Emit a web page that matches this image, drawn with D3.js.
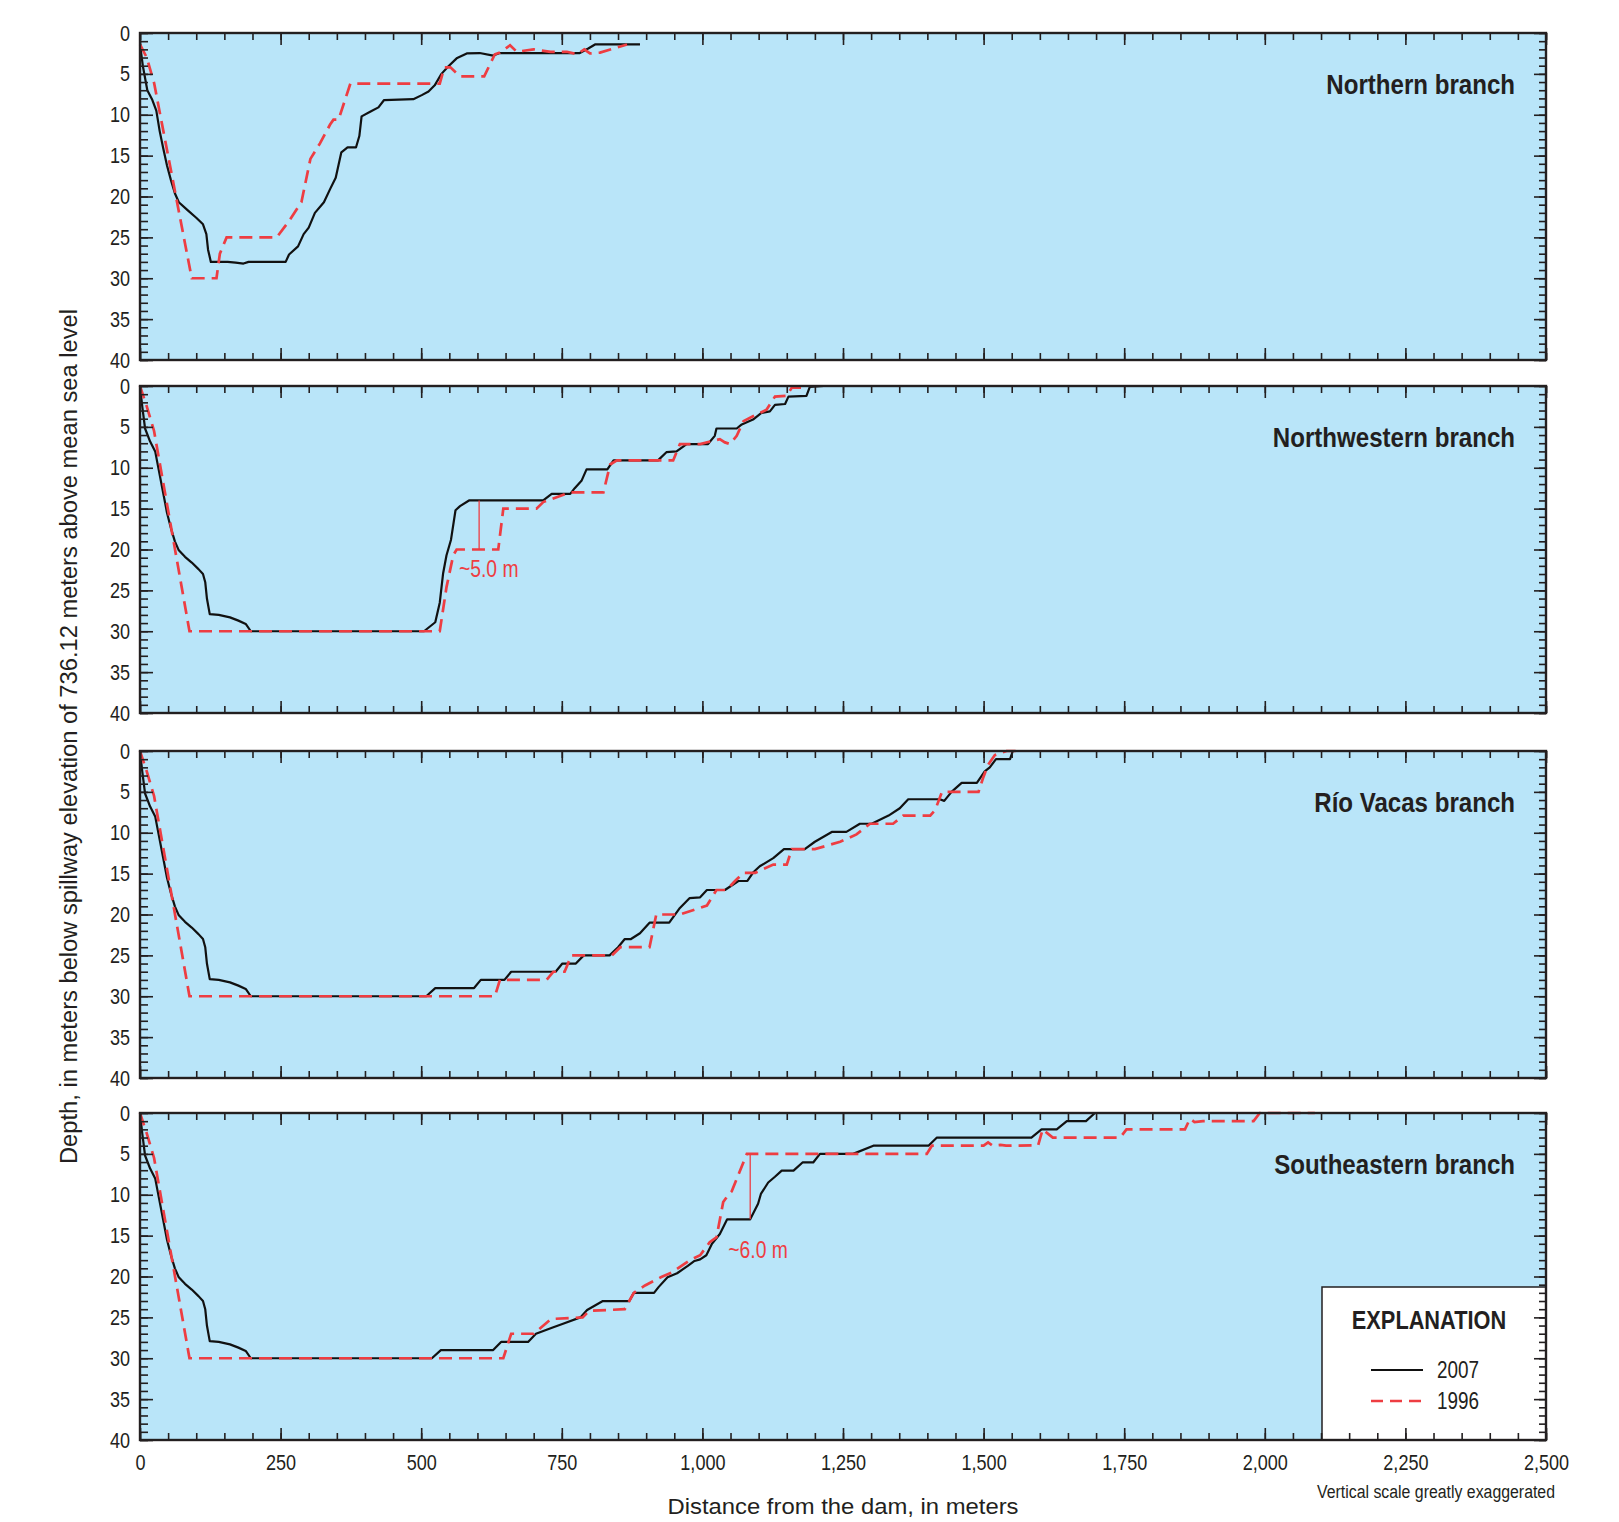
<!DOCTYPE html>
<html>
<head>
<meta charset="utf-8">
<script src="https://cdn.jsdelivr.net/npm/d3@7"></script>
<style>
  body { margin: 0; background: #fff; }
  svg { display: block; }
</style>
</head>
<body>
<svg id="chart"></svg>
<script>
const branchNames = ["Northern branch", "Northwestern branch", "Río Vacas branch", "Southeastern branch"];
const seriesYears = ["2007", "1996"];
const distanceTicks = [0, 250, 500, 750, 1000, 1250, 1500, 1750, 2000, 2250, 2500];
const depthTicks = [0, 5, 10, 15, 20, 25, 30, 35, 40];

// [distance from dam (m), depth below spillway (m)]
// the reach next to the dam is the same in the last three branches
const damReach2007 = [[0, 0], [4, 2.5], [9, 5.2], [18, 6.8], [27, 8], [34, 10.5], [41, 13], [48, 15.5], [55, 17.4],
  [62, 19], [69, 20.1], [80, 20.9], [92, 21.6], [104, 22.4], [112, 23], [116, 24], [119, 26], [124, 27.9],
  [140, 28], [160, 28.3], [175, 28.7], [188, 29.1], [197, 30]];
const damReach1996 = [[0, 0], [12, 2.5], [25, 5.5], [88, 30]];

const northern2007 = [[0, 1.4], [5, 4], [13, 7], [22, 8.2], [29, 9.5], [35, 12], [41, 14], [48, 16.2], [55, 18],
  [62, 19.6], [69, 20.7], [85, 21.7], [100, 22.6], [112, 23.4], [118, 24.6], [121, 26.5], [126, 28], [156, 28],
  [170, 28.1], [184, 28.2], [193, 28], [259, 28], [265, 27.1], [281, 26.1], [291, 24.6], [300, 23.8], [311, 22],
  [327, 20.7], [338, 19.1], [348, 17.7], [358, 14.6], [369, 14], [384, 14], [390, 12.6], [394, 10.2], [410, 9.6],
  [424, 9.1], [434, 8.2], [486, 8.1], [501, 7.6], [513, 7.15], [524, 6.4], [536, 5], [548, 4.1], [563, 3.1],
  [581, 2.5], [604, 2.45], [628, 2.76], [640, 2.45], [782, 2.45], [797, 1.9], [809, 1.4], [889, 1.4]];
const northern1996 = [[0, 1.4], [12, 3], [25, 6.1], [92, 30], [136, 30], [142, 27], [154, 25], [243, 25],
  [265, 23], [287, 20.7], [303, 15.4], [320, 13.5], [338, 11.2], [344, 10.6], [353, 10.6], [374, 6.2], [533, 6.2],
  [541, 4.2], [552, 4.2], [569, 5.3], [612, 5.3], [631, 2.6], [640, 2.4], [658, 1.5], [670, 2.3], [700, 2.0],
  [730, 2.3], [759, 2.3], [777, 2.6], [790, 2.0], [800, 2.5], [818, 2.4], [842, 1.9], [866, 1.4]];

const northwestern2007 = damReach2007.concat([[505, 30], [525, 28.9], [533, 26.5], [539, 22.9], [545, 20.7],
  [553, 18.8], [561, 15.2], [569, 14.7], [585, 14], [717, 14], [732, 13.2], [765, 13.2], [773, 12.5], [785, 11.6],
  [794, 10.2], [831, 10.2], [842, 9.1], [921, 9.1], [936, 8.1], [954, 8], [972, 7.1], [1010, 7.1], [1022, 6.1],
  [1025, 5.2], [1061, 5.2], [1070, 4.7], [1090, 4.1], [1105, 3.3], [1120, 3.1], [1129, 2.3], [1147, 2.2],
  [1153, 1.3], [1185, 1.2], [1191, 0.1], [1216, 0]]);
const northwestern1996 = damReach1996.concat([[533, 30], [545, 24.6], [557, 20.7], [563, 20], [637, 20],
  [646, 15], [705, 15], [717, 14.2], [765, 13], [824, 13], [836, 9.6], [848, 9.1], [948, 9.1], [960, 7.1],
  [996, 7.1], [1031, 6.5], [1040, 6.9], [1049, 7.1], [1061, 6.1], [1073, 4.3], [1090, 3.7], [1114, 2.9],
  [1129, 1.3], [1150, 1.2], [1159, 0.2], [1186, 0.2]]);

const rioVacas2007 = damReach2007.concat([[509, 30], [525, 29], [594, 29], [606, 28], [648, 28], [660, 27],
  [739, 27], [751, 26], [775, 26], [789, 25], [835, 25], [850, 24], [862, 23], [873, 23], [889, 22.3], [906, 21],
  [941, 21], [960, 19.2], [977, 18], [996, 17.9], [1008, 17], [1040, 17], [1064, 15.9], [1080, 15.9],
  [1091, 14.8], [1102, 14.1], [1126, 13.1], [1145, 12], [1182, 12], [1200, 11.1], [1230, 9.9], [1256, 9.9],
  [1280, 8.9], [1301, 8.9], [1331, 7.9], [1351, 7], [1366, 5.9], [1422, 5.9], [1430, 6.1], [1443, 5],
  [1461, 3.9], [1488, 3.9], [1502, 2.5], [1511, 2], [1522, 1], [1547, 1], [1552, 0], [1570, 0]]);
const rioVacas1996 = damReach1996.concat([[631, 30], [640, 28], [723, 28], [735, 27], [755, 27], [767, 25],
  [839, 25], [854, 24], [906, 24], [918, 20], [960, 20], [1008, 18.9], [1025, 17], [1043, 17], [1058, 15.9],
  [1073, 14.9], [1094, 14.9], [1126, 13.9], [1150, 13.9], [1159, 12], [1200, 12], [1245, 11.1], [1274, 10.2],
  [1298, 8.9], [1339, 8.9], [1357, 7.9], [1405, 7.9], [1414, 7.2], [1426, 5], [1491, 5], [1499, 3.3],
  [1508, 1.7], [1520, 0.5], [1541, 0], [1560, 0]]);

const southeastern2007 = damReach2007.concat([[519, 30], [535, 29], [628, 29], [642, 28], [690, 28], [704, 27],
  [735, 26.2], [751, 25.8], [783, 25], [795, 24.1], [823, 23], [870, 23], [878, 22], [914, 22], [922, 21.3],
  [938, 20.1], [955, 19.6], [974, 18.7], [986, 18.1], [996, 17.9], [1007, 17.4], [1017, 16], [1031, 14.8],
  [1044, 13], [1085, 13], [1099, 11.1], [1104, 9.9], [1117, 8.5], [1129, 7.8], [1141, 7.05], [1162, 7.05],
  [1178, 6.05], [1197, 6.05], [1209, 5], [1268, 5], [1304, 4], [1402, 4], [1417, 3], [1585, 3], [1603, 2],
  [1630, 2], [1648, 1], [1682, 1], [1698, 0], [2105, 0]]);
const southeastern1996 = damReach1996.concat([[646, 30], [660, 27], [700, 27], [731, 25.2], [787, 25],
  [799, 24.2], [862, 24], [878, 22], [898, 21.1], [926, 20.1], [946, 19.5], [978, 18], [996, 17.4], [1013, 15.8],
  [1025, 15.2], [1037, 10.9], [1046, 10], [1052, 9.6], [1079, 5], [1399, 5], [1408, 4], [1500, 4], [1508, 3.6],
  [1516, 4], [1530, 3.9], [1540, 4], [1597, 3.95], [1605, 2], [1612, 2.4], [1623, 3], [1743, 3], [1754, 2],
  [1858, 2], [1867, 0.7], [1875, 1.1], [1890, 1], [1980, 1], [1991, 0], [2089, 0]]);

// difference markers: distance, depth of 2007 and 1996 surfaces, label spot
const annotations = [
  { panel: 1, x: 603, from: 14, to: 20, label: "~5.0 m", labelX: 567, labelDepth: 22.4 },
  { panel: 3, x: 1085, from: 5, to: 13, label: "~6.0 m", labelX: 1046, labelDepth: 16.7 }
];

const profiles = [
  [northern2007, northern1996],
  [northwestern2007, northwestern1996],
  [rioVacas2007, rioVacas1996],
  [southeastern2007, southeastern1996]
];

const width = 1619;
const height = 1522;
const panelTops = [33, 386, 751, 1113];
const panelHeight = 327;
const sans = "'Liberation Sans', Arial, sans-serif";
const ink = "#231f20";
const red = "#ee3d42";
const water = "#b9e5f9";

const svg = d3.select("#chart").attr("width", width).attr("height", height);

const x = d3.scaleLinear().domain([0, 2500]).range([140, 1546]);

// no condensed face is installed, so squeeze the glyphs of each label
function condense(sel, factor) {
    sel.each(function() {
        const w = this.getComputedTextLength();
        if (w > 0) {
            d3.select(this).attr("textLength", w * factor).attr("lengthAdjust", "spacingAndGlyphs");
        }
    });
}

function addAxis(g, axis, transform) {
    g.append("g")
        .attr("transform", transform)
        .call(axis)
        .attr("font-family", sans)
        .attr("font-size", 22)
        .call(a => a.select(".domain").remove())
        .call(a => a.selectAll("line").attr("stroke", ink).attr("stroke-width", 1.6))
        .call(a => a.selectAll("text").attr("fill", ink))
        .call(a => condense(a.selectAll("text"), 0.82));
}

branchNames.forEach((name, i) => {
    const top = panelTops[i];
    const bottom = top + panelHeight;
    const y = d3.scaleLinear().domain([0, 40]).range([top, bottom]);
    const last = i === branchNames.length - 1;
    const g = svg.append("g");

    g.append("rect")
        .attr("x", x(0)).attr("y", top)
        .attr("width", x(2500) - x(0)).attr("height", panelHeight)
        .attr("fill", water);

    const line = d3.line().x(d => x(d[0])).y(d => y(d[1]));

    g.append("path")
        .datum(profiles[i][0])
        .attr("d", line)
        .attr("fill", "none")
        .attr("stroke", "#111")
        .attr("stroke-width", 2.2)
        .attr("stroke-linejoin", "round");

    g.append("path")
        .datum(profiles[i][1])
        .attr("d", line)
        .attr("fill", "none")
        .attr("stroke", red)
        .attr("stroke-width", 2.7)
        .attr("stroke-dasharray", "13,7");

    annotations.filter(a => a.panel === i).forEach(a => {
        g.append("line")
            .attr("x1", x(a.x)).attr("x2", x(a.x))
            .attr("y1", y(a.from)).attr("y2", y(a.to))
            .attr("stroke", red).attr("stroke-width", 1.3);
        g.append("text")
            .attr("x", x(a.labelX))
            .attr("y", y(a.labelDepth))
            .attr("dy", "0.36em")
            .attr("font-family", sans)
            .attr("font-size", 23)
            .attr("fill", red)
            .text(a.label)
            .call(t => condense(t, 0.84));
    });

    // Legend sits in the corner of the bottom panel, under the ticks
    if (last) {
        const lx = x(2500) - 224;
        const ly = bottom - 153;
        const legend = g.append("g");
        legend.append("rect")
            .attr("x", lx).attr("y", ly)
            .attr("width", x(2500) - lx).attr("height", bottom - ly)
            .attr("fill", "#fff")
            .attr("stroke", ink).attr("stroke-width", 1.5);
        legend.append("text")
            .attr("x", lx + 107).attr("y", ly + 42)
            .attr("text-anchor", "middle")
            .attr("font-family", sans).attr("font-weight", "bold")
            .attr("font-size", 25).attr("fill", ink)
            .text("EXPLANATION")
            .call(t => condense(t, 0.87));
        seriesYears.forEach((yr, k) => {
            const ry = ly + 83 + k * 31;
            legend.append("line")
                .attr("x1", lx + 49).attr("x2", lx + 101)
                .attr("y1", ry).attr("y2", ry)
                .attr("stroke", k === 0 ? "#111" : red)
                .attr("stroke-width", k === 0 ? 1.8 : 2.7)
                .attr("stroke-dasharray", k === 0 ? null : "12,7");
            legend.append("text")
                .attr("x", lx + 115).attr("y", ry)
                .attr("dy", "0.36em")
                .attr("font-family", sans)
                .attr("font-size", 23).attr("fill", ink)
                .text(yr)
                .call(t => condense(t, 0.82));
        });
    }

    // Ticks point inward on all four sides
    const minorX = d3.range(0, 2501, 50);
    const minorY = d3.range(0, 41, 1);

    addAxis(g, d3.axisBottom(x).tickValues(minorX).tickSize(-7).tickFormat(""), `translate(0,${bottom})`);
    addAxis(g, d3.axisBottom(x).tickValues(distanceTicks).tickSize(-12).tickPadding(14)
        .tickFormat(last ? d3.format(",") : ""), `translate(0,${bottom})`);
    addAxis(g, d3.axisTop(x).tickValues(minorX).tickSize(-7).tickFormat(""), `translate(0,${top})`);
    addAxis(g, d3.axisTop(x).tickValues(distanceTicks).tickSize(-12).tickFormat(""), `translate(0,${top})`);
    addAxis(g, d3.axisLeft(y).tickValues(minorY).tickSize(-8).tickFormat(""), `translate(${x(0)},0)`);
    addAxis(g, d3.axisLeft(y).tickValues(depthTicks).tickSize(-13).tickPadding(10)
        .tickFormat(d3.format("d")), `translate(${x(0)},0)`);
    addAxis(g, d3.axisRight(y).tickValues(minorY).tickSize(-7).tickFormat(""), `translate(${x(2500)},0)`);
    addAxis(g, d3.axisRight(y).tickValues(depthTicks).tickSize(-12).tickFormat(""), `translate(${x(2500)},0)`);

    g.append("rect")
        .attr("x", x(0)).attr("y", top)
        .attr("width", x(2500) - x(0)).attr("height", panelHeight)
        .attr("fill", "none")
        .attr("stroke", ink).attr("stroke-width", 2.4);

    g.append("text")
        .attr("x", x(2500) - 31)
        .attr("y", top + 61)
        .attr("text-anchor", "end")
        .attr("font-family", sans)
        .attr("font-weight", "bold")
        .attr("font-size", 28)
        .attr("fill", ink)
        .text(name)
        .call(t => condense(t, 0.86));
});

// Axis titles
svg.append("text")
    .attr("transform", `translate(77,${(panelTops[0] + panelTops[3] + panelHeight) / 2}) rotate(-90)`)
    .attr("text-anchor", "middle")
    .attr("font-family", sans)
    .attr("font-size", 23)
    .attr("fill", ink)
    .attr("textLength", 855)
    .attr("lengthAdjust", "spacingAndGlyphs")
    .text("Depth, in meters below spillway elevation of 736.12 meters above mean sea level");

svg.append("text")
    .attr("x", (x(0) + x(2500)) / 2)
    .attr("y", 1514)
    .attr("text-anchor", "middle")
    .attr("font-family", sans)
    .attr("font-size", 22)
    .attr("fill", ink)
    .attr("textLength", 351)
    .attr("lengthAdjust", "spacingAndGlyphs")
    .text("Distance from the dam, in meters");

svg.append("text")
    .attr("x", 1555)
    .attr("y", 1498)
    .attr("text-anchor", "end")
    .attr("font-family", sans)
    .attr("font-size", 18)
    .attr("fill", ink)
    .attr("textLength", 238)
    .attr("lengthAdjust", "spacingAndGlyphs")
    .text("Vertical scale greatly exaggerated");
</script>
</body>
</html>
